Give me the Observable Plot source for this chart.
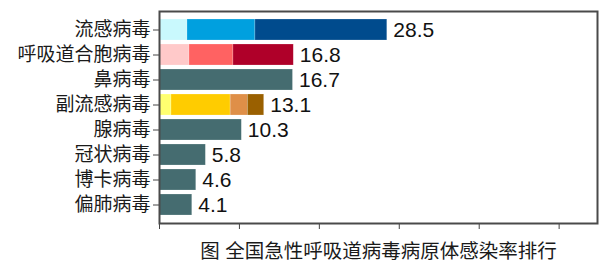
<!DOCTYPE html>
<html>
<head>
<meta charset="utf-8">
<script src="https://cdn.jsdelivr.net/npm/d3@7"></script>
<script src="https://cdn.jsdelivr.net/npm/@observablehq/plot@0.6"></script>
<style>
  html, body { margin: 0; padding: 0; background: #fff; }
  #chart svg { display: block; }
</style>
</head>
<body>
<div id="chart"></div>
<script>
const categories = ["流感病毒", "呼吸道合胞病毒", "鼻病毒", "副流感病毒", "腺病毒", "冠状病毒", "博卡病毒", "偏肺病毒"];
const totals = [28.5, 16.8, 16.7, 13.1, 10.3, 5.8, 4.6, 4.1];
// stacked sub-segments
const fluParts = [3.5, 8.5, 16.5];
const fluColors = ["#c9f9fd", "#00a0df", "#004b8d"];
const rsvParts = [3.75, 5.5, 7.55];
const rsvColors = ["#ffc9c9", "#ff6262", "#af0029"];
const pivParts = [1.5, 7.4, 2.15, 2.05];
const pivColors = ["#ffff70", "#ffcc00", "#df8f48", "#9a6000"];
const singleColor = "#456c70";
const caption = "图 全国急性呼吸道病毒病原体感染率排行";
const xTicks = [0, 10, 20, 30, 40, 50];
const xDomain = [0, 54.8];

const segments = [];
categories.forEach((cat, i) => {
  let parts, colors;
  if (cat === "流感病毒") { parts = fluParts; colors = fluColors; }
  else if (cat === "呼吸道合胞病毒") { parts = rsvParts; colors = rsvColors; }
  else if (cat === "副流感病毒") { parts = pivParts; colors = pivColors; }
  else { parts = [totals[i]]; colors = [singleColor]; }
  parts.forEach((v, j) => segments.push({cat, value: v, color: colors[j]}));
});
const totalRows = categories.map((cat, i) => ({cat, total: totals[i]}));

const frameColor = "#4a4a4a";
const chart = Plot.plot({
  width: 603,
  height: 266,
  marginLeft: 159,
  marginRight: 6,
  marginTop: 11,
  marginBottom: 43,
  style: {fontFamily: "'Liberation Sans', Arial, 'Noto Sans CJK SC', sans-serif", color: "#1a1a1a", background: "#fff"},
  x: {domain: xDomain},
  y: {domain: categories, padding: 0.17},
  color: {type: "identity"},
  marks: [
    Plot.barX(segments, Plot.stackX({x: "value", y: "cat", fill: "color", stroke: "#ffffff", strokeOpacity: 0.35, strokeWidth: 0.6})),
    Plot.text(totalRows, {x: "total", y: "cat", text: d => d.total.toFixed(1), textAnchor: "start", dx: 6, fontSize: 21, fill: "#111"}),
    Plot.axisY({tickSize: 6, tickPadding: 3, fontSize: 19, label: null, stroke: "#444"}),
    Plot.axisX({ticks: xTicks, tickSize: 6, tickFormat: () => "", label: caption, labelAnchor: "center", labelArrow: "none", labelOffset: 34, fontSize: 19.5, stroke: "#444"}),
    Plot.frame({stroke: frameColor, strokeWidth: 2})
  ]
});
document.getElementById("chart").appendChild(chart);
</script>
</body>
</html>
